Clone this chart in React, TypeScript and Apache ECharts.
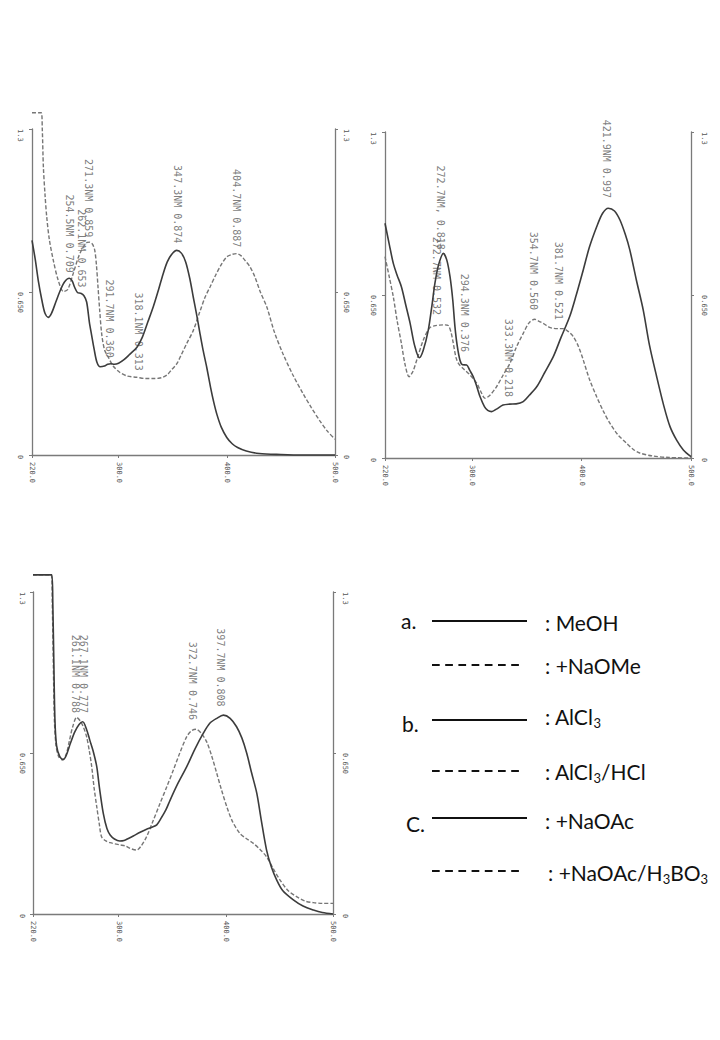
import React, { useEffect, useRef } from 'react';
import * as echarts from 'echarts';

// ---- axis ticks ----
const xTickValues = [220, 300, 400, 500];
const xTickLabels = ['220.0', '300.0', '400.0', '500.0'];
const yTickLabels = ['0', '0.650', '1.3'];

// ---- panel a : MeOH / +NaOMe ----
const aMeOH: [number, number][] = [
  [220, 0.856], [223, 0.78], [226, 0.69], [229, 0.62], [232, 0.565], [235, 0.549], [238, 0.565],
  [242, 0.61], [246, 0.655], [250, 0.69], [254.5, 0.705], [257, 0.695], [259.5, 0.668], [262, 0.648],
  [265, 0.645], [268, 0.635], [270.5, 0.61], [273, 0.53], [275, 0.48], [277.5, 0.42], [280, 0.37],
  [283, 0.352], [287, 0.355], [290, 0.362], [293, 0.364], [296, 0.362], [300, 0.366], [305, 0.38],
  [310, 0.40], [317, 0.43], [322, 0.47], [327, 0.53], [332, 0.59], [337, 0.66], [341, 0.72],
  [345, 0.77], [349, 0.80], [353.7, 0.816], [358, 0.805], [362, 0.77], [366, 0.70], [369, 0.63],
  [372, 0.563], [375, 0.49], [378, 0.42], [381.5, 0.349], [385, 0.27], [388, 0.21], [391, 0.16],
  [395, 0.11], [400, 0.07], [405, 0.045], [410, 0.03], [418, 0.016], [430, 0.006], [450, 0.002],
  [470, 0], [500, 0],
];
const aNaOMe: [number, number][] = [
  [220, 1.365], [228.5, 1.365], [229.5, 1.3], [230.5, 1.15], [232, 1.04], [233.6, 0.95], [236, 0.86],
  [239.7, 0.776], [244, 0.70], [249, 0.652], [253, 0.66], [258, 0.723], [263, 0.79], [267.4, 0.83],
  [271, 0.848], [273.6, 0.849], [276, 0.84], [278, 0.816], [279.5, 0.76], [281, 0.67], [282.5, 0.58],
  [284.4, 0.483], [287, 0.42], [290.5, 0.39], [295, 0.355], [301, 0.33], [308, 0.315], [316.8, 0.31],
  [325, 0.305], [332, 0.305], [337, 0.306], [341, 0.31], [345, 0.32], [349, 0.34], [353.7, 0.363],
  [358, 0.40], [363, 0.445], [369, 0.496], [375, 0.57], [380, 0.63], [384.5, 0.67], [390, 0.72],
  [395, 0.76], [400, 0.79], [405, 0.80], [409, 0.803], [413, 0.795], [417, 0.775], [421.5, 0.75],
  [426, 0.71], [431, 0.65], [437, 0.59], [444, 0.49], [452, 0.403], [461, 0.32], [470.7, 0.243],
  [478, 0.19], [486, 0.136], [493, 0.095], [500, 0.063],
];
const aPeaks = [
  { x: 254.5, y: 0.703, text: '254.5NM 0.709' },
  { x: 265.5, y: 0.644, text: '262.1NM 0.653' },
  { x: 272.5, y: 0.844, text: '271.3NM 0.859' },
  { x: 291.7, y: 0.364, text: '291.7NM 0.360' },
  { x: 318, y: 0.312, text: '318.1NM 0.313' },
  { x: 354, y: 0.82, text: '347.3NM 0.874' },
  { x: 409.2, y: 0.804, text: '404.7NM 0.887' },
];

// ---- panel b : AlCl3 / AlCl3+HCl ----
const bAlCl3: [number, number][] = [
  [220, 0.936], [224, 0.85], [227.6, 0.776], [231, 0.73], [235, 0.683], [239, 0.61], [243, 0.537],
  [247, 0.45], [251.4, 0.40], [255, 0.43], [259.6, 0.51], [263, 0.61], [265.7, 0.697], [269, 0.77],
  [273.4, 0.816], [276.5, 0.79], [279.5, 0.723], [282, 0.63], [284, 0.524], [286, 0.45], [288.6, 0.39],
  [291, 0.372], [294.7, 0.371], [297.5, 0.35], [300.8, 0.324], [304, 0.285], [307, 0.244], [311, 0.205],
  [314, 0.19], [317.6, 0.185], [322, 0.195], [328, 0.211], [334, 0.215], [340, 0.216], [346.5, 0.225],
  [352, 0.25], [358.8, 0.284], [366, 0.34], [374, 0.404], [381, 0.48], [389, 0.564], [395, 0.65],
  [401.4, 0.75], [407, 0.84], [413.7, 0.922], [419, 0.975], [424.3, 0.996], [430, 0.985], [435, 0.949],
  [440, 0.89], [444, 0.83], [450, 0.71], [456.3, 0.59], [462, 0.45], [468.6, 0.324], [475, 0.21],
  [480.8, 0.125], [487, 0.07], [493, 0.032], [500, 0.005],
];
const bAlCl3HCl: [number, number][] = [
  [220, 0.803], [224, 0.72], [227.6, 0.643], [231, 0.55], [235, 0.457], [238.5, 0.37], [242, 0.324],
  [245.5, 0.345], [249, 0.39], [255, 0.47], [260.5, 0.517], [265, 0.527], [270, 0.53], [275, 0.531],
  [278, 0.528], [280.5, 0.50], [282.5, 0.457], [285, 0.40], [287.5, 0.375], [292, 0.355], [297.8, 0.331],
  [304, 0.298], [308, 0.262], [311.5, 0.238], [316, 0.25], [322, 0.284], [328, 0.33], [334.4, 0.378],
  [340, 0.44], [346.5, 0.497], [352, 0.54], [357, 0.553], [361, 0.545], [364.8, 0.537], [370, 0.522],
  [374, 0.517], [378.5, 0.516], [383, 0.516], [387.5, 0.505], [392.3, 0.484], [397, 0.445],
  [401.4, 0.391], [407, 0.315], [413.7, 0.244], [420, 0.185], [425.9, 0.138], [433, 0.093],
  [441, 0.059], [447, 0.035], [453, 0.02], [465, 0.008], [480, 0.002], [500, 0],
];
const bPeaks = [
  { x: 271.2, y: 0.806, text: '272.7NM, 0.818' },
  { x: 267.3, y: 0.546, text: '272.7NM 0.532' },
  { x: 293.2, y: 0.399, text: '294.3NM 0.376' },
  { x: 332.8, y: 0.219, text: '333.3NM 0.218' },
  { x: 355.7, y: 0.566, text: '354.7NM 0.560' },
  { x: 378.6, y: 0.526, text: '381.7NM 0.521' },
  { x: 422.8, y: 1.013, text: '421.9NM 0.997' },
];

// ---- panel c : +NaOAc / +NaOAc+H3BO3 ----
const cNaOAc: [number, number][] = [
  [220, 1.369], [237.5, 1.369], [238.5, 1.25], [239.5, 1.0], [240.5, 0.78], [242, 0.68], [245, 0.635],
  [248.3, 0.624], [251, 0.64], [255, 0.69], [259, 0.735], [263, 0.765], [266.4, 0.776], [270, 0.745],
  [273, 0.702], [276, 0.66], [279.5, 0.595], [282, 0.51], [285.6, 0.406], [289, 0.345], [292, 0.319],
  [296, 0.303], [301, 0.295], [305, 0.297], [309, 0.305], [313.6, 0.315], [320, 0.33], [326, 0.342],
  [331, 0.35], [335.5, 0.36], [340, 0.39], [344, 0.42], [348, 0.46], [355, 0.525], [363.5, 0.595],
  [371, 0.665], [379, 0.73], [385, 0.77], [391.5, 0.79], [397.7, 0.803], [404, 0.79], [410, 0.756],
  [415, 0.71], [419.5, 0.649], [424, 0.57], [428.9, 0.487], [433, 0.38], [438, 0.258], [442.5, 0.19],
  [447.5, 0.137], [453, 0.095], [463, 0.057], [472, 0.032], [481.7, 0.016], [490, 0.006], [500, 0],
];
const cNaOAcH3BO3: [number, number][] = [
  [220, 1.369], [237, 1.369], [238, 1.25], [239, 1.0], [240, 0.78], [241.5, 0.68], [244, 0.635],
  [247.5, 0.622], [251, 0.645], [254, 0.7], [257, 0.755], [260.8, 0.794], [264, 0.78], [267, 0.755],
  [270, 0.716], [272.5, 0.66], [274.8, 0.595], [277, 0.51], [279.5, 0.433], [282, 0.36], [284, 0.312],
  [288, 0.295], [292, 0.288], [301, 0.279], [306, 0.275], [310.6, 0.265], [316.8, 0.258], [321, 0.275],
  [326, 0.312], [332, 0.375], [338.6, 0.447], [345, 0.515], [351, 0.581], [357, 0.65], [363.5, 0.716],
  [368, 0.74], [372.2, 0.746], [377, 0.73], [382, 0.696], [387, 0.635], [391.5, 0.568], [396, 0.5],
  [400.9, 0.433], [406, 0.375], [413, 0.326], [419, 0.305], [425.7, 0.285], [432, 0.26], [438, 0.231],
  [444, 0.185], [450.6, 0.137], [458, 0.095], [466, 0.07], [474, 0.052], [481.7, 0.046], [490, 0.043],
  [500, 0.043],
];
const cPeaks = [
  { x: 259.2, y: 0.787, text: '261.1NM 0.788' },
  { x: 267, y: 0.787, text: '267.1NM 0.777' },
  { x: 369, y: 0.759, text: '372.7NM 0.746' },
  { x: 395.3, y: 0.813, text: '397.7NM 0.808' },
];

// ---- legend ----
const legendGroups = ['a.', 'b.', 'C.'];
const legendLabels = [
  '{n|: MeOH}',
  '{n|: +NaOMe}',
  '{n|: AlCl}{s|3}',
  '{n|: AlCl}{s|3}{n|/HCl}',
  '{n|: +NaOAc}',
  '{n|: +NaOAc/H}{s|3}{n|BO}{s|3}',
];

const MONO = "'DejaVu Sans Mono', monospace";
const SANS = "Lato, 'Open Sans', sans-serif";
const AXIS_COLOR = '#7a7a7a';
const SOLID_COLOR = '#3c3c3c';
const DASH_COLOR = '#767676';

const panels = [
  { solid: aMeOH, dashed: aNaOMe, peaks: aPeaks, grid: { left: 32, top: 129, width: 303, height: 326 }, lm: 12, rm: 11 },
  { solid: bAlCl3, dashed: bAlCl3HCl, peaks: bPeaks, grid: { left: 385, top: 132, width: 306, height: 326 }, lm: 12, rm: 13 },
  { solid: cNaOAc, dashed: cNaOAcH3BO3, peaks: cPeaks, grid: { left: 33, top: 592, width: 300, height: 322 }, lm: 11, rm: 12 },
];

function buildOption() {
  const grid: any[] = [];
  const xAxis: any[] = [];
  const yAxis: any[] = [];
  const series: any[] = [];
  const axisLabelBase = {
    fontFamily: MONO,
    fontSize: 7,
    color: '#555',
    rotate: -90,
    align: 'left',
    verticalAlign: 'middle',
  };
  panels.forEach((p, g) => {
    grid.push({ ...p.grid, containLabel: false });
    xAxis.push({
      gridIndex: g,
      type: 'value',
      min: 220,
      max: 500,
      axisLine: { show: true, onZero: false, lineStyle: { color: AXIS_COLOR, width: 1.3 } },
      axisTick: { show: true, customValues: xTickValues, length: 3, lineStyle: { color: AXIS_COLOR } },
      axisLabel: {
        ...axisLabelBase,
        customValues: xTickValues,
        margin: 7,
        formatter: (v: number) => {
          const i = xTickValues.indexOf(v);
          return i >= 0 ? xTickLabels[i] : '';
        },
      },
      splitLine: { show: false },
    });
    ['left', 'right'].forEach((pos) => {
      yAxis.push({
        gridIndex: g,
        type: 'value',
        position: pos,
        min: 0,
        max: 1.3,
        interval: 0.65,
        axisLine: { show: true, onZero: false, lineStyle: { color: AXIS_COLOR, width: 1.3 } },
        axisTick: { show: true, length: 3, lineStyle: { color: AXIS_COLOR } },
        axisLabel: {
          ...axisLabelBase,
          margin: pos === 'left' ? p.lm : p.rm,
          formatter: (_v: number, i: number) => yTickLabels[i] ?? '',
        },
        splitLine: { show: false },
      });
    });
    series.push({
      type: 'line',
      xAxisIndex: g,
      yAxisIndex: 2 * g,
      data: p.dashed,
      showSymbol: false,
      smooth: 0.3,
      clip: false,
      lineStyle: { color: DASH_COLOR, width: 1.4, type: [4, 2] },
    });
    series.push({
      type: 'line',
      xAxisIndex: g,
      yAxisIndex: 2 * g,
      data: p.solid,
      showSymbol: false,
      smooth: 0.3,
      clip: false,
      lineStyle: { color: SOLID_COLOR, width: 1.6 },
    });
    series.push({
      type: 'scatter',
      xAxisIndex: g,
      yAxisIndex: 2 * g,
      symbolSize: 0,
      itemStyle: { color: 'transparent' },
      data: p.peaks.map((k) => ({ name: k.text, value: [k.x, k.y] })),
      label: {
        show: true,
        position: 'top',
        distance: 6,
        rotate: -90,
        align: 'right',
        verticalAlign: 'middle',
        formatter: '{b}',
        fontFamily: MONO,
        fontSize: 10,
        color: '#5a5a5a',
      },
    });
  });

  // legend graphics
  const rowY = [621, 665, 720, 771, 818, 871];
  const textY = [622, 665, 716, 771, 820, 872];
  const groupPos = [
    { x: 401, y: 620 },
    { x: 402, y: 723 },
    { x: 406, y: 823 },
  ];
  const graphic: any[] = [];
  legendGroups.forEach((t, i) => {
    graphic.push({
      type: 'text',
      x: groupPos[i].x,
      y: groupPos[i].y,
      style: { text: t, fontFamily: SANS, fontSize: 21, fill: '#111', verticalAlign: 'middle' },
    });
  });
  legendLabels.forEach((t, i) => {
    const dashed = i % 2 === 1;
    graphic.push({
      type: 'line',
      shape: { x1: 432, y1: rowY[i], x2: dashed ? 519 : 527, y2: rowY[i] },
      style: { stroke: '#111', lineWidth: 2, lineDash: dashed ? [7.7, 5.5] : null },
    });
    graphic.push({
      type: 'text',
      x: i === 5 ? 548 : 545,
      y: textY[i],
      style: {
        text: t,
        verticalAlign: 'middle',
        fill: '#111',
        rich: {
          n: { fontFamily: SANS, fontSize: 21, fill: '#111' },
          s: { fontFamily: SANS, fontSize: 13, fill: '#111', padding: [14, 0, 0, 0] },
        },
      },
    });
  });

  return {
    animation: false,
    backgroundColor: '#ffffff',
    grid,
    xAxis,
    yAxis,
    series,
    graphic,
  };
}

export default function App() {
  const ref = useRef<HTMLDivElement>(null);
  useEffect(() => {
    if (!ref.current) return;
    const chart = echarts.init(ref.current, undefined, { renderer: 'svg' });
    chart.setOption(buildOption() as any);
    return () => chart.dispose();
  }, []);
  return (
    <div
      ref={ref}
      style={{ position: 'fixed', left: 0, top: 0, width: 720, height: 1040, background: '#fff' }}
    />
  );
}
